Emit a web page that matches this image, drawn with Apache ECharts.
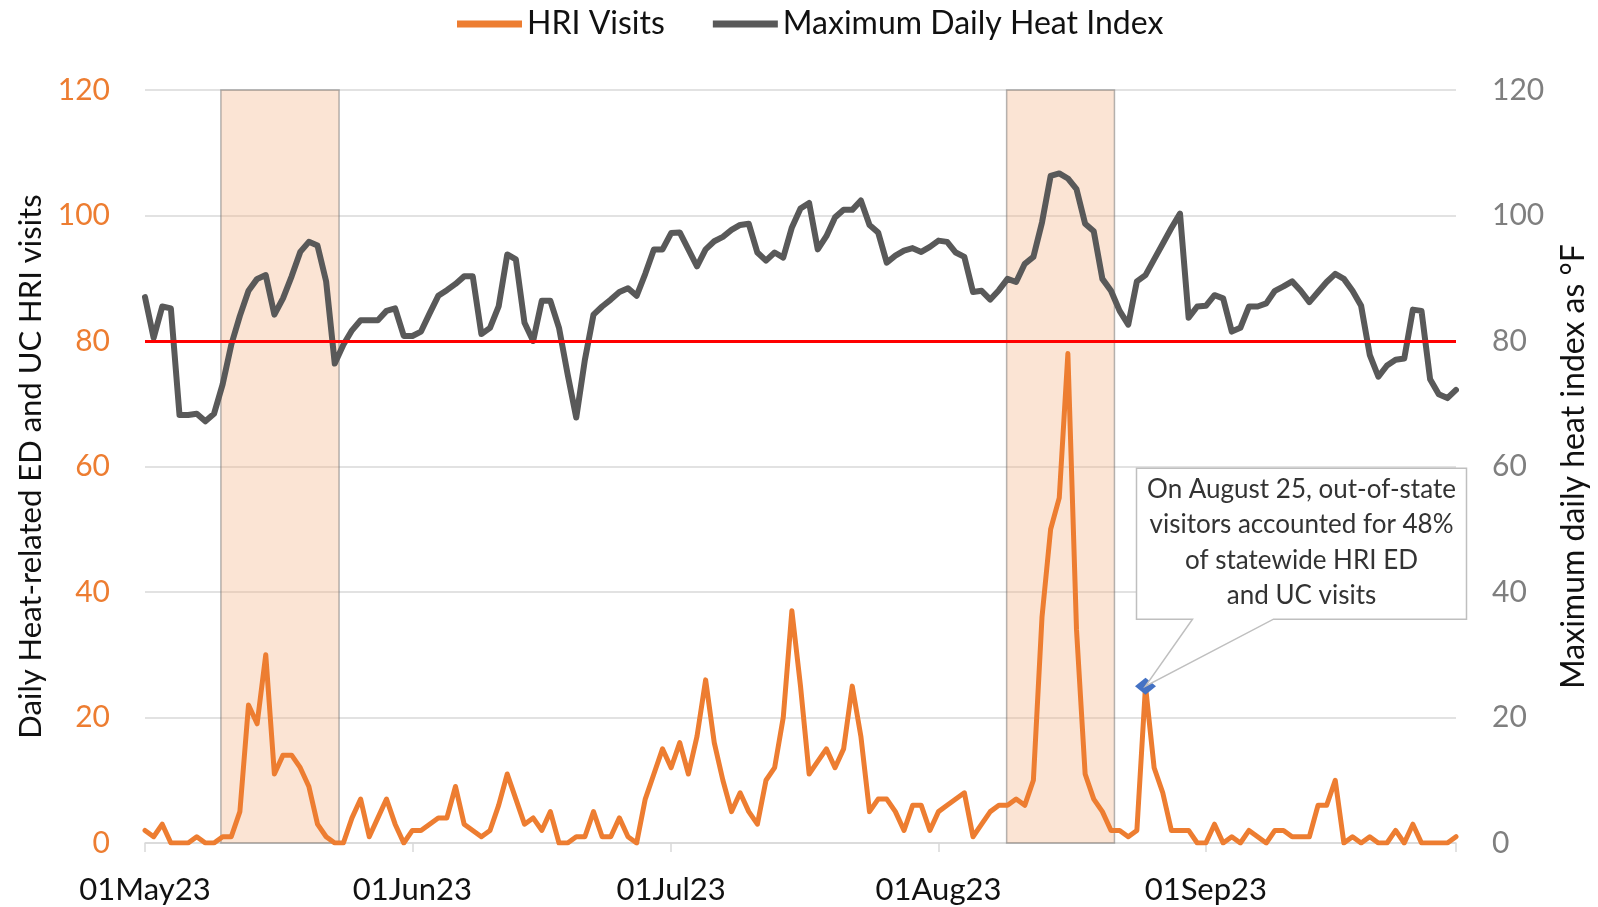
<!DOCTYPE html>
<html>
<head>
<meta charset="utf-8">
<script src="https://cdn.jsdelivr.net/npm/echarts@6/dist/echarts.min.js"></script>
<style>
  html, body { margin: 0; padding: 0; background: #ffffff; }
  #chart { width: 1598px; height: 907px; }
</style>
</head>
<body>
<div id="chart"></div>
<script>
// ---- Data (daily, 01 May 2023 .. 30 Sep 2023) ----
const startDate = new Date(2023, 4, 1);
const hriVisits = [
  2, 1, 3, 0, 0, 0, 1, 0, 0, 1,
  1, 5, 22, 19, 30, 11, 14, 14, 12, 9,
  3, 1, 0, 0, 4, 7, 1, 4, 7, 3,
  0, 2, 2, 3, 4, 4, 9, 3, 2, 1,
  2, 6, 11, 7, 3, 4, 2, 5, 0, 0,
  1, 1, 5, 1, 1, 4, 1, 0, 7, 11,
  15, 12, 16, 11, 17, 26, 16, 10, 5, 8,
  5, 3, 10, 12, 20, 37, 25, 11, 13, 15,
  12, 15, 25, 17, 5, 7, 7, 5, 2, 6,
  6, 2, 5, 6, 7, 8, 1, 3, 5, 6,
  6, 7, 6, 10, 36, 50, 55, 78, 34, 11,
  7, 5, 2, 2, 1, 2, 25, 12, 8, 2,
  2, 2, 0, 0, 3, 0, 1, 0, 2, 1,
  0, 2, 2, 1, 1, 1, 6, 6, 10, 0,
  1, 0, 1, 0, 0, 2, 0, 3, 0, 0,
  0, 0, 1
];
const maxHeatIndex = [
  87, 80.5, 85.5, 85.2, 68.2, 68.2, 68.4, 67.2, 68.4, 73.1,
  79.4, 84, 88, 89.9, 90.5, 84.2, 86.8, 90.3, 94.2, 95.8,
  95.2, 89.5, 76.4, 79.4, 81.7, 83.3, 83.3, 83.3, 84.8, 85.2,
  80.8, 80.8, 81.5, 84.4, 87.2, 88.1, 89.1, 90.3, 90.3, 81.1,
  82.1, 85.5, 93.8, 93, 82.9, 80, 86.4, 86.4, 82.1, 74.7,
  67.8, 77, 84.2, 85.5, 86.6, 87.8, 88.4, 87.2, 90.7, 94.6,
  94.6, 97.2, 97.3, 94.6, 91.9, 94.6, 95.9, 96.6, 97.7, 98.5,
  98.7, 94.1, 92.8, 94.1, 93.3, 98.1, 101.1, 102, 94.6, 96.7,
  99.7, 100.9, 100.9, 102.4, 98.5, 97.3, 92.5, 93.6, 94.4, 94.8,
  94.2, 95, 96, 95.8, 94.1, 93.4, 87.8, 88, 86.6, 88.1,
  89.9, 89.4, 92.3, 93.4, 98.9, 106.3, 106.7, 105.9, 104.2, 98.7,
  97.5, 89.9, 88, 84.8, 82.6, 89.5, 90.5, 93, 95.5, 98,
  100.3, 83.7, 85.5, 85.6, 87.3, 86.8, 81.5, 82.1, 85.5, 85.5,
  86, 88, 88.7, 89.5, 88, 86.2, 87.8, 89.4, 90.7, 89.9,
  88, 85.6, 77.8, 74.3, 76.1, 77, 77.2, 85, 84.8, 73.9,
  71.5, 70.9, 72.2
];
const seriesNames = ['HRI Visits', 'Maximum Daily Heat Index'];
const tickLabels = ['01May23', '01Jun23', '01Jul23', '01Aug23', '01Sep23'];
const tickDates = [new Date(2023, 4, 1), new Date(2023, 5, 1), new Date(2023, 6, 1), new Date(2023, 7, 1), new Date(2023, 8, 1)];
const heatWavePeriods = [[8.8, 22.5], [99.9, 112.4]];   // shaded periods, in days from 01May23
const heatThreshold = 80;
const annotationDate = new Date(2023, 7, 25);
const annotationLines = ['On August 25, out-of-state', 'visitors accounted for 48%', 'of statewide HRI ED', 'and UC visits'];
const yTicks = { min: 0, max: 120, interval: 20 };

// ---- Derived ----
const DAY = 86400000;
const dayIndex = d => Math.round((d - startDate) / DAY);
const lastDay = hriVisits.length - 1;
const tickDays = tickDates.map(dayIndex);
const annDay = dayIndex(annotationDate);
const FONT = 'Lato';

const chart = echarts.init(document.getElementById('chart'), null, { renderer: 'canvas' });

const option = {
  animation: false,
  backgroundColor: '#ffffff',
  textStyle: { fontFamily: FONT },
  grid: { left: 145, right: 141, top: 90, bottom: 64 },
  legend: {
    data: seriesNames,
    left: 452, top: 2,
    icon: 'rect', itemWidth: 65, itemHeight: 7, itemGap: 48,
    textStyle: { fontFamily: FONT, fontSize: 32, color: '#111', lineHeight: 34, padding: [0, 0, 0, 0] }
  },
  xAxis: {
    type: 'value', min: 0, max: lastDay,
    axisLine: { show: true, lineStyle: { color: '#D9D9D9', width: 1.5 } },
    axisTick: { show: true, length: 9, lineStyle: { color: '#D9D9D9', width: 1.5 }, customValues: tickDays.concat([lastDay]) },
    axisLabel: {
      customValues: tickDays,
      formatter: v => tickLabels[tickDays.indexOf(Math.round(v))] || '',
      fontFamily: FONT, fontSize: 31, color: '#111', margin: 31
    },
    splitLine: { show: false }
  },
  yAxis: [
    {
      type: 'value', min: yTicks.min, max: yTicks.max, interval: yTicks.interval,
      name: 'Daily Heat-related ED and UC HRI visits',
      nameLocation: 'middle', nameRotate: 90, nameGap: 99,
      nameTextStyle: { fontFamily: FONT, fontSize: 31, color: '#111' },
      axisLine: { show: false }, axisTick: { show: false },
      axisLabel: { color: '#ED7D31', fontFamily: FONT, fontSize: 30, margin: 35 },
      splitLine: { show: true, lineStyle: { color: '#D9D9D9', width: 1.5 } }
    },
    {
      type: 'value', min: yTicks.min, max: yTicks.max, interval: yTicks.interval,
      name: 'Maximum daily heat index as °F',
      nameLocation: 'middle', nameRotate: 90, nameGap: 102,
      nameTextStyle: { fontFamily: FONT, fontSize: 32, color: '#111' },
      axisLine: { show: false }, axisTick: { show: false },
      axisLabel: { color: '#7F7F7F', fontFamily: FONT, fontSize: 30, margin: 36 },
      splitLine: { show: false }
    }
  ],
  series: [
    {
      name: seriesNames[0], type: 'line', yAxisIndex: 0,
      data: hriVisits.map((v, i) => [i, v]),
      showSymbol: false, symbol: 'none',
      color: '#ED7D31',
      lineStyle: { color: '#ED7D31', width: 5, join: 'round', cap: 'round' },
      z: 2
    },
    {
      name: seriesNames[1], type: 'line', yAxisIndex: 1,
      data: maxHeatIndex.map((v, i) => [i, v]),
      showSymbol: false, symbol: 'none',
      color: '#595959',
      lineStyle: { color: '#595959', width: 6, join: 'round', cap: 'round' },
      z: 2
    },
    {
      name: 'periods', type: 'line', yAxisIndex: 0, data: [], z: 5,
      markArea: {
        silent: true,
        itemStyle: { color: 'rgba(244,177,131,0.35)', borderColor: 'rgba(120,120,120,0.55)', borderWidth: 1.5 },
        data: heatWavePeriods.map(p => [{ xAxis: p[0], yAxis: yTicks.min }, { xAxis: p[1], yAxis: yTicks.max }])
      }
    },
    {
      name: 'threshold', type: 'line', yAxisIndex: 1, data: [], z: 6,
      markLine: {
        silent: true, symbol: 'none',
        label: { show: false },
        lineStyle: { color: '#FF0000', width: 3, type: 'solid' },
        data: [{ yAxis: heatThreshold }]
      }
    },
    {
      name: 'annotated', type: 'scatter', yAxisIndex: 0,
      data: [[annDay, hriVisits[annDay]]],
      symbol: 'diamond', symbolSize: [21, 17],
      itemStyle: { color: '#4472C4', opacity: 1 },
      z: 8
    }
  ]
};
chart.setOption(option);

// Callout anchored to the annotated data point
const tip = chart.convertToPixel({ seriesIndex: 0 }, [annDay, hriVisits[annDay]]);
const tx = tip[0], ty = tip[1];
const boxL = tx - 9, boxR = tx + 321, boxT = ty - 218, boxB = ty - 67;
const p1 = tx + 47, p2 = tx + 128;
const lineH = 35.5;
const textCX = (boxL + boxR) / 2;
const textCY = (boxT + boxB) / 2 - 1;
chart.setOption({
  graphic: [
    {
      type: 'polygon', z: 20,
      shape: { points: [[boxL, boxT], [boxR, boxT], [boxR, boxB], [p2, boxB], [tx, ty], [p1, boxB], [boxL, boxB]] },
      style: { fill: '#ffffff', stroke: '#BFBFBF', lineWidth: 1.5 }
    },
    {
      type: 'text', z: 21,
      x: textCX, y: textCY,
      style: {
        text: annotationLines.join('\n'),
        fontFamily: FONT, fontSize: 26, lineHeight: lineH,
        fill: '#333333', align: 'center', verticalAlign: 'middle'
      }
    }
  ]
});
</script>
</body>
</html>
